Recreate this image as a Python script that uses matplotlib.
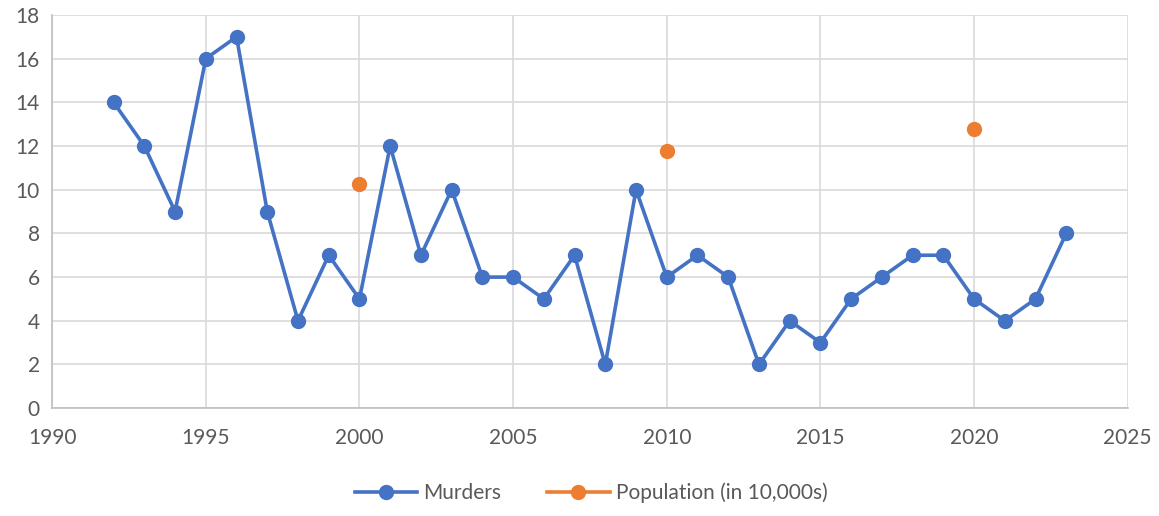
import matplotlib
matplotlib.use("Agg")
import matplotlib.pyplot as plt
from matplotlib.lines import Line2D

years = list(range(1992, 2024))
murders = [14, 12, 9, 16, 17, 9, 4, 7, 5, 12, 7, 10, 6, 6, 5, 7, 2, 10, 6, 7, 6, 2, 4, 3, 5, 6, 7, 7, 5, 4, 5, 8]
pop_years = [2000, 2010, 2020]
population = [10.25, 11.75, 12.8]

plt.rcParams['font.family'] = ['Lato', 'DejaVu Sans']
fig = plt.figure(figsize=(11.59, 5.16), dpi=100)
ax = fig.add_axes([0.045, 0.209, 0.928, 0.762])

blue = '#4472C4'
orange = '#ED7D31'
ax.plot(years, murders, color=blue, lw=2.6, marker='o', ms=10, label='Murders', zorder=3)
ax.plot(pop_years, population, color=orange, lw=2.6, marker='o', ms=10, linestyle='none', label='Population (in 10,000s)', zorder=3)

ax.set_xlim(1990, 2025)
ax.set_ylim(0, 18)
ax.set_xticks(range(1990, 2026, 5))
ax.set_yticks(range(0, 19, 2))
ax.grid(True, color='#D9D9D9', lw=1.2)
ax.set_axisbelow(True)
for s in ['top', 'right']:
    ax.spines[s].set_visible(False)
for s in ['left', 'bottom']:
    ax.spines[s].set_color('#BFBFBF')
    ax.spines[s].set_linewidth(1.2)
ax.tick_params(length=0, labelsize=15, colors='#595959', pad=9)
ax.tick_params(axis='x', pad=14)

handles = [Line2D([], [], color=blue, lw=2.6, marker='o', ms=10),
           Line2D([], [], color=orange, lw=2.6, marker='o', ms=10)]
leg = fig.legend(handles, ['Murders', 'Population (in 10,000s)'], loc='center', bbox_to_anchor=(0.51, 0.045),
                 ncol=2, frameon=False, fontsize=15, handlelength=3, columnspacing=2.2, handletextpad=0.3)
for t in leg.get_texts():
    t.set_color('#595959')

fig.savefig('out.png', dpi=100)
